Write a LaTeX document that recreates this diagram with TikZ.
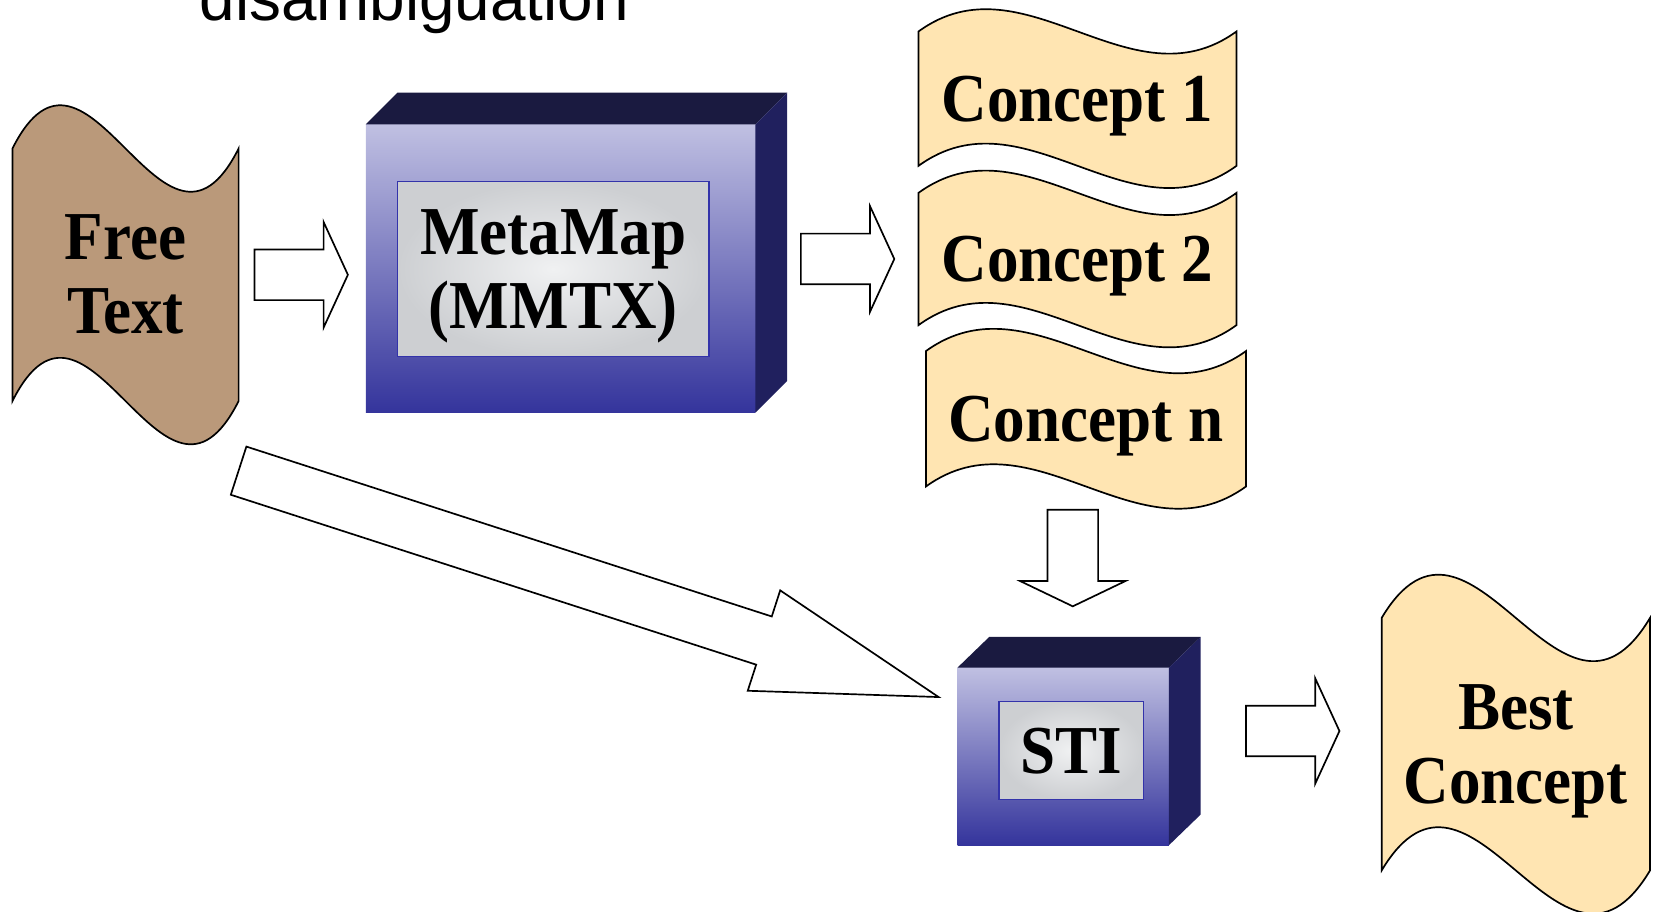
\documentclass[tikz,border=0pt]{standalone}
\usepackage{fontspec}
\setmainfont{Liberation Serif}
\newfontfamily\boxfont[FakeStretch=0.92]{Liberation Serif}
\newfontfamily\headfont{Liberation Sans}
\usetikzlibrary{calc,backgrounds}

\definecolor{paper}{RGB}{186,153,122}
\definecolor{concept}{RGB}{255,229,178}
\definecolor{boxtop}{RGB}{26,26,64}
\definecolor{boxside}{RGB}{32,32,94}
\definecolor{facelight}{RGB}{192,192,226}
\definecolor{facemid}{RGB}{165,165,211}
\definecolor{facedark}{RGB}{52,52,156}
\definecolor{panelrim}{RGB}{51,51,170}
\definecolor{marblelight}{RGB}{240,241,242}
\definecolor{marbledark}{RGB}{205,207,210}

% hollow block arrow: #1 head length, #2 tail, #3 tip
\newcommand{\fatarrow}[3][23]{%
  \path ($(#3)!#1pt!(#2)$) coordinate (fa-c);
  \draw[fatarrow] ($(#2)!24pt!90:(#3)$) -- ($(fa-c)!24pt!90:(#3)$)
    -- ($(fa-c)!50pt!90:(#3)$) -- (#3) -- ($(fa-c)!50pt!-90:(#3)$)
    -- ($(fa-c)!24pt!-90:(#3)$) -- ($(#2)!24pt!-90:(#3)$) -- cycle;}

% wavy document outline behind a node: #1 node, #2 bend, #3 colour
\newcommand{\tapeback}[3]{%
  \begin{scope}[on background layer]
  \draw[tapeline, fill=#3] (#1.north west)
    .. controls ($(#1.north west)!0.333!(#1.north east)+(0,-#2)$)
    and ($(#1.north west)!0.667!(#1.north east)+(0,#2)$) .. (#1.north east)
    -- (#1.south east)
    .. controls ($(#1.south west)!0.667!(#1.south east)+(0,#2)$)
    and ($(#1.south west)!0.333!(#1.south east)+(0,-#2)$) .. (#1.south west)
    -- cycle;
  \end{scope}}

% 3d block behind a front face node: #1 node, #2 depth x, #3 depth y
\newcommand{\cubeback}[3]{%
  \begin{scope}[on background layer]
  \shade[top color=facelight, middle color=facemid, bottom color=facedark]
    (#1.north west) rectangle (#1.south east);
  \fill[boxtop] (#1.north west) -- ++(#2,-#3) -- ($(#1.north east)+(#2,-#3)$)
    -- (#1.north east) -- cycle;
  \fill[boxside] (#1.north east) -- ++(#2,-#3) -- ($(#1.south east)+(#2,-#3)$)
    -- (#1.south east) -- cycle;
  \end{scope}}

\begin{document}
\begin{tikzpicture}[x=1pt, y=-1pt,
  txt/.style={inner sep=0pt, align=center,
    font={\boxfont\bfseries\fontsize{65}{70}\selectfont}},
  capline/.style={text height=43pt, text depth=0pt},
  tapeline/.style={draw=black, line width=1.6pt},
  fatarrow/.style={draw=black, fill=white, line width=1.6pt},
  panel/.style={txt, draw=panelrim, line width=1.4pt,
    inner color=marblelight, outer color=marbledark}]

\useasboundingbox (0,0) rectangle (1568,864);

% Title (cut by the frame)
\node[anchor=base west, inner sep=0pt,
  font={\headfont\fontsize{60.5}{70}\selectfont}] (title) at (189,19) {disambiguation};

% Input text
\node[txt, minimum width=214, minimum height=239] (free) at (119,260.5) {Free\\Text};
\tapeback{free}{142}{paper}

% MetaMap block
\node[inner sep=0pt, minimum width=369, minimum height=273] (mm) at (531.5,254.5) {};
\cubeback{mm}{30}{30}
\node[panel, text depth=0pt, minimum width=295, minimum height=166] (mmtx)
  at (524.5,255) {MetaMap\\(MMTX)};

% Candidate concepts
\node[txt, capline, minimum width=301, minimum height=127] (c1) at (1021.5,93.5) {Concept 1};
\node[txt, capline, minimum width=301, minimum height=125] (c2) at (1021.5,245.5) {Concept 2};
\node[txt, capline, minimum width=303, minimum height=128] (cn) at (1029.5,397) {Concept n};
\foreach \c in {c1,c2,cn} {\tapeback{\c}{73}{concept}}

% STI block
\node[inner sep=0pt, minimum width=200, minimum height=168] (sti) at (1008,717) {};
\cubeback{sti}{30}{29}
\node[panel, capline, minimum width=137, minimum height=93] (stit) at (1015.5,711.5) {STI};

% Result
\node[txt, text depth=0pt, minimum width=254, minimum height=239] (best)
  at (1437,705.5) {Best\\Concept};
\tapeback{best}{142}{concept}

% Arrow ends
\coordinate (a1) at ([xshift=15pt]free.east);
\coordinate (b1) at ([xshift=-17pt]a1 -| mm.west);
\coordinate (a2) at ([xshift=43pt]mm.east |- c2.west);
\coordinate (b2) at ([xshift=-23pt]c2.west);
\coordinate (a3) at ([xshift=-12.5pt,yshift=-22pt]cn.south);
\coordinate (b3) at ([yshift=58pt]a3 |- sti.north);
\coordinate (a4) at ([xshift=73pt,yshift=24pt]sti.east);
\coordinate (b4) at ([xshift=-40pt]a4 -| best.west);
\coordinate (a5) at ([yshift=-66pt]free.south east);
\coordinate (b5) at ([xshift=-18pt,yshift=-28pt]sti.north west);

% Arrows
\fatarrow{a1}{b1}
\fatarrow{a2}{b2}
\fatarrow[24]{a3}{b3}
\fatarrow{a4}{b4}
\fatarrow[174]{a5}{b5}
\end{tikzpicture}
\end{document}
